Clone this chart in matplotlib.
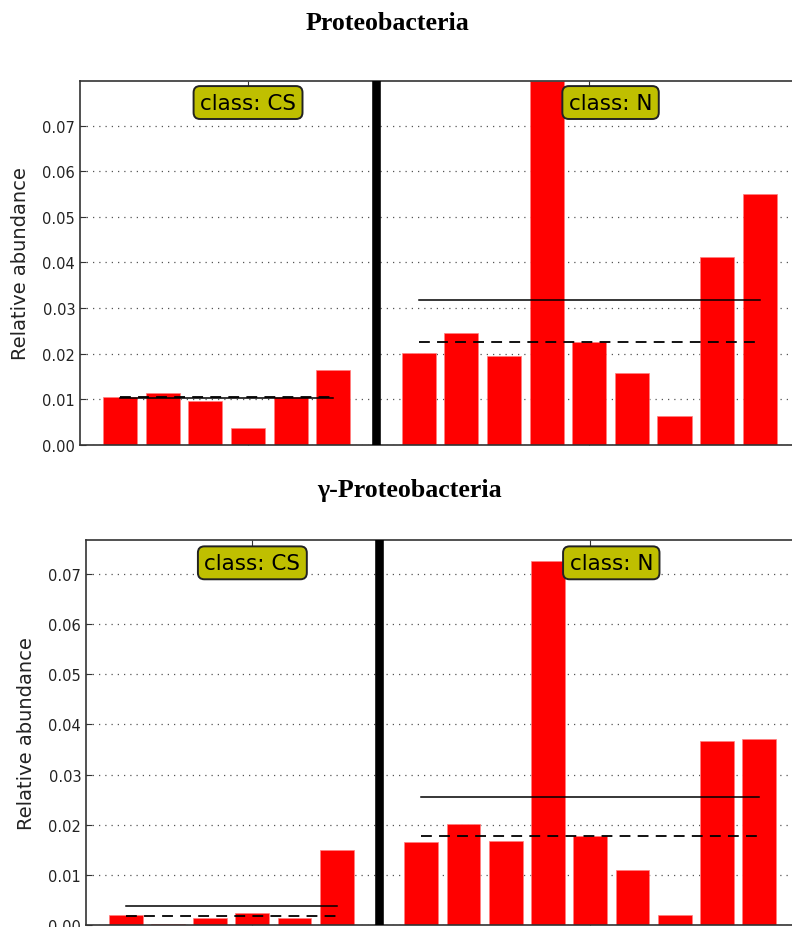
import numpy as np
import matplotlib
matplotlib.use("Agg")
import matplotlib.pyplot as plt

# relative abundance per sample, class CS then class N
prot_cs = [0.0104, 0.0113, 0.0095, 0.0036, 0.0104, 0.0165]
prot_n = [0.0201, 0.0246, 0.0194, 0.0799, 0.0225, 0.0158, 0.0064, 0.0413, 0.0551]
gamma_cs = [0.0021, 0.0002, 0.0014, 0.0024, 0.0014, 0.0149]
gamma_n = [0.0166, 0.0202, 0.0167, 0.0725, 0.0178, 0.0110, 0.0020, 0.0366, 0.0370]

class_names = ["CS", "N"]
titles = ["Proteobacteria", "\u03b3-Proteobacteria"]
yticks = [0.00, 0.01, 0.02, 0.03, 0.04, 0.05, 0.06, 0.07]
ytop = [0.0799, 0.0768]

W, H = 792, 928
fig = plt.figure(figsize=(W / 100, H / 100), dpi=100)


def px_axes(left, top, bottom, right):
    return fig.add_axes([left / W, 1 - bottom / H, (right - left) / W, (bottom - top) / H])


def draw_panel(ax, cs, n, ylim_top):
    x_cs = np.arange(len(cs))
    x_n = np.arange(len(n)) + len(cs) + 1
    ax.bar(x_cs, cs, width=0.8, color="#ff0000", edgecolor="#ff8080", lw=0.5, zorder=2)
    ax.bar(x_n, n, width=0.8, color="#ff0000", edgecolor="#ff8080", lw=0.5, zorder=2)

    # mean (solid) and median (dashed) per class
    for xs, vals in [(x_cs, cs), (x_n, n)]:
        ax.plot([xs[0], xs[-1]], [np.mean(vals)] * 2, color="black", lw=1.1, zorder=3)
        ax.plot([xs[0], xs[-1]], [np.median(vals)] * 2, color="black", lw=1.3,
                ls=(0, (6, 4)), zorder=3)

    # class separator
    ax.axvline(len(cs), color="black", lw=6.2, zorder=4)

    ax.set_xlim(-0.94, 16.0)
    ax.set_ylim(0, ylim_top)
    ax.set_yticks(yticks)
    ax.set_yticklabels(["%.2f" % v for v in yticks], fontsize=10.5, color="#222222")
    ax.set_xticks([len(cs) / 2, x_n.mean()])
    ax.set_xticklabels([])
    ax.tick_params(axis="both", direction="in", length=4, width=0.8, top=True, color="#333333")
    ax.yaxis.grid(True, ls=(0, (1, 4)), color="#555555", lw=0.9, zorder=0)
    ax.set_axisbelow(True)
    for s in ax.spines.values():
        s.set_color("#333333")
        s.set_linewidth(1.2)
    ax.set_ylabel("Relative abundance", fontsize=14, color="#222222", labelpad=9)

    box = dict(boxstyle="round,pad=0.3", fc="#bfbf00", ec="#222222", lw=1.4)
    trans = ax.get_xaxis_transform()
    ax.text(len(cs) / 2, 0.94, "class: " + class_names[0], transform=trans,
            ha="center", va="center", fontsize=15.5, bbox=box, zorder=5)
    ax.text(x_n.mean() + 0.5, 0.94, "class: " + class_names[1], transform=trans,
            ha="center", va="center", fontsize=15.5, bbox=box, zorder=5)


ax1 = px_axes(80, 81.7, 445.7, 80 + 16.94 * 42.65)
draw_panel(ax1, prot_cs, prot_n, ytop[0])
ax2 = px_axes(86, 540.7, 926.2, 86 + 16.95 * 42.2)
draw_panel(ax2, gamma_cs, gamma_n, ytop[1])

fig.text(387.5 / W, 1 - 24 / H, titles[0], ha="center", va="center",
         fontsize=18.6, fontweight="bold", family="Liberation Serif")
fig.text(410 / W, 1 - 491 / H, titles[1], ha="center", va="center",
         fontsize=18.6, fontweight="bold", family="Liberation Serif")

fig.savefig("out.png", dpi=100)
